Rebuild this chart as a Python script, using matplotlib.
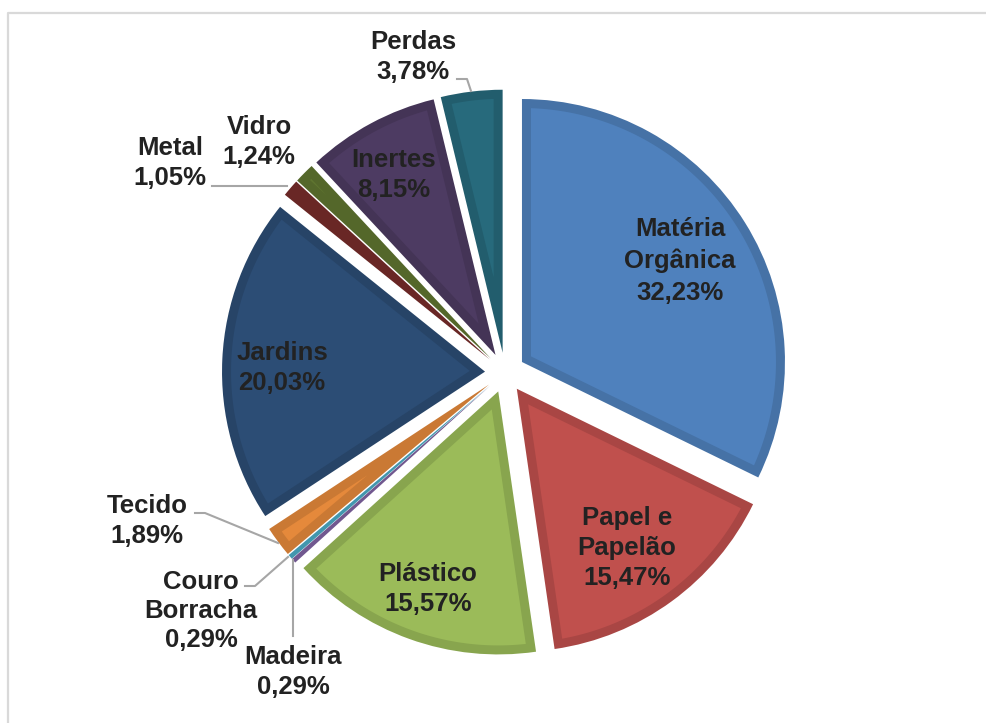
import numpy as np
import matplotlib.pyplot as plt
from matplotlib.colors import to_rgb
from matplotlib.patches import Polygon

# composição dos resíduos (%), no sentido horário a partir do topo
categorias = ["Matéria\nOrgânica", "Papel e\nPapelão", "Plástico", "Madeira",
              "Couro\nBorracha", "Tecido", "Jardins", "Metal", "Vidro",
              "Inertes", "Perdas"]
valores = [32.23, 15.47, 15.57, 0.29, 0.29, 1.89, 20.03, 1.05, 1.24, 8.15, 3.78]
cores = ["#4F81BD", "#C0504D", "#9BBB59", "#8064A2", "#4BACC6", "#E5893B",
         "#2C4D75", "#772C2A", "#5F7530", "#4D3B62", "#276A7C"]

W, H = 986, 723
fig = plt.figure(figsize=(W / 100, H / 100), dpi=100)
ax = fig.add_axes([0, 0, 1, 1])

def py(y):
    # coordenadas em pixels com origem no topo
    return H - y

def escurecer(c, f=0.88):
    r, g, b = to_rgb(c)
    return (r * f, g * f, b * f)

def miolo(w, d):
    # região interna da fatia, recuada d pixels de todas as bordas
    A = np.array(w.center)
    t1, t2 = np.radians(w.theta1), np.radians(w.theta2)
    span = t2 - t1
    if span >= np.pi:
        return None
    tm = 0.5 * (t1 + t2)
    v = d / np.sin(span / 2) * np.array([np.cos(tm), np.sin(tm)])
    r = w.r - d
    if np.hypot(*v) >= r - 2:
        return None
    pts = [A + v]
    angs = []
    for t in (t1, t2):
        e = np.array([np.cos(t), np.sin(t)])
        b = v @ e
        s = -b + np.sqrt(b * b - v @ v + r * r)
        p = A + v + s * e
        angs.append(np.arctan2(*(p - A)[::-1]))
    a1, a2 = angs
    if a2 < a1:
        a2 += 2 * np.pi
    arco = np.linspace(a1, a2, 120)
    pts += [A + r * np.array([np.cos(a), np.sin(a)]) for a in arco]
    return np.array(pts)

cx, cy, R = 505, py(372.6), 263
wedges, _ = ax.pie(valores, colors=[escurecer(c) for c in cores], startangle=90,
                   counterclock=False, explode=[20] * len(valores), radius=R,
                   center=(cx, cy), wedgeprops=dict(linewidth=0))
for w, c in zip(wedges, cores):
    pts = miolo(w, 9)
    if pts is not None:
        ax.add_patch(Polygon(pts, closed=True, facecolor=c, edgecolor="none"))

ax.set_xlim(0, W)
ax.set_ylim(0, H)
ax.set_aspect("equal")
ax.axis("off")

# moldura
ax.plot([8, 8, W], [0, py(13), py(13)], color="#D9D9D9", lw=1.6, solid_capstyle="butt")

pct = [f"{v:.2f}".replace(".", ",") + "%" for v in valores]
rotulos = [f"{c}\n{p}" for c, p in zip(categorias, pct)]

# posições dos rótulos (centro do bloco de texto, em pixels)
pos_rotulos = [(680, 261), (627, 548), (428, 589), (293, 672), (201, 611),
               (147, 521), (282, 368), (170, 163), (259, 142), (394, 175),
               (413, 57)]
espaco = [1.38, 1.3, 1.27, 1.27, 1.27, 1.27, 1.27, 1.27, 1.27, 1.27, 1.27]
for (x, y), txt, ls in zip(pos_rotulos, rotulos, espaco):
    ax.text(x, py(y), txt, ha="center", va="center", fontsize=18.5,
            fontweight="bold", family="Liberation Sans", color="#222222",
            linespacing=ls)

# linhas de chamada
chamadas = [
    [(457, 79), (467, 79), (471, 91)],        # Perdas
    [(212, 186), (287, 186)],                 # Metal
    [(195, 513), (205, 513), (278, 543)],     # Tecido
    [(245, 586), (255, 586), (288, 557)],     # Couro Borracha
    [(293, 636), (293, 560)],                 # Madeira
]
for pts in chamadas:
    xs, ys = zip(*pts)
    ax.plot(xs, [py(y) for y in ys], color="#A6A6A6", lw=1.5)

fig.savefig("out.png", dpi=100)
